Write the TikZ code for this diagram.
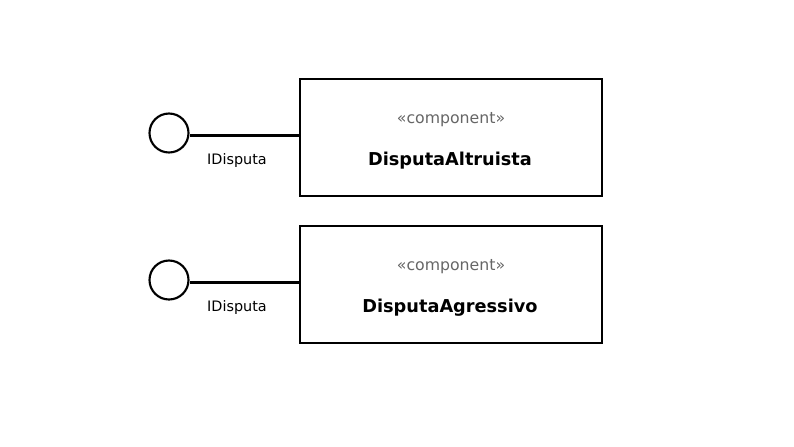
\documentclass[tikz,border=0pt]{standalone}
\usepackage{fontspec}
\setmainfont{DejaVu Sans}
\begin{document}
\begin{tikzpicture}[x=0.75pt,y=-0.75pt,
  comp/.style={draw=black,line width=1.6pt,minimum width=226.5pt,minimum height=87.75pt,inner sep=0pt},
  iface/.style={draw=black,line width=1.6pt,circle,minimum size=29.25pt,inner sep=0pt},
  conn/.style={draw=black,line width=1.6pt},
  stereo/.style={text=black!60,font=\fontsize{11.8}{14}\selectfont},
  cname/.style={font=\fontsize{13.3}{16}\selectfont\bfseries},
  lbl/.style={font=\fontsize{10.8}{13}\selectfont}]
\useasboundingbox (0,0) rectangle (794,447);
\node[comp] (c1) at (451,137.5) {};
\node[comp] (c2) at (451,284.5) {};
\node[stereo] (s1) at (451,120) {«component»};
\node[cname] (n1) at (450,161) {DisputaAltruista};
\node[stereo] (s2) at (451,267) {«component»};
\node[cname] (n2) at (450,308) {DisputaAgressivo};
\node[iface] (i1) at (169,133) {};
\node[iface] (i2) at (169,280) {};
\coordinate (p1) at (300,135.5);
\coordinate (p2) at (300,282.5);
\draw[conn] (i1.east |- p1) -- (p1);
\draw[conn] (i2.east |- p2) -- (p2);
\node[lbl] (l1) at (237,160.5) {IDisputa};
\node[lbl] (l2) at (237,307.5) {IDisputa};
\end{tikzpicture}
\end{document}
